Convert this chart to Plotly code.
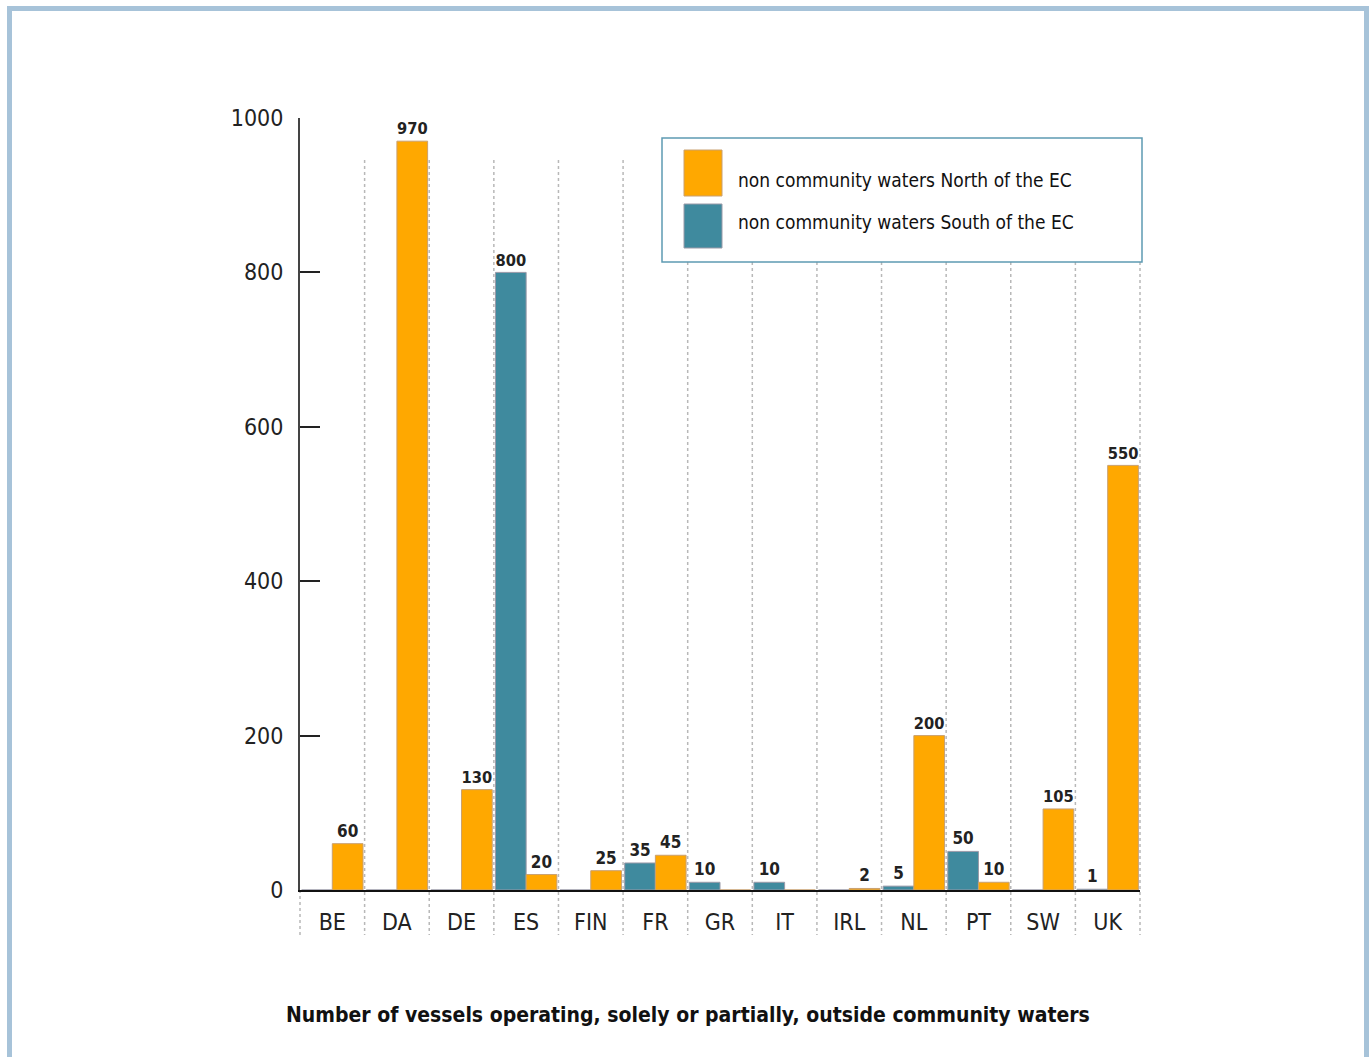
import plotly.graph_objects as go

countries = ["BE", "DA", "DE", "ES", "FIN", "FR", "GR", "IT", "IRL", "NL", "PT", "SW", "UK"]
north = [60, 970, 130, 20, 25, 45, 0, 0, 2, 200, 10, 105, 550]
south = [0, 0, 0, 800, 0, 35, 10, 10, 0, 5, 50, 0, 1]
y_ticks = [0, 200, 400, 600, 800, 1000]
north_name = "non community waters North of the EC"
south_name = "non community waters South of the EC"
title_text = "Number of vessels operating, solely or partially, outside community waters"

W, H = 1372, 1057
L, R, T, B = 300, 1140, 118, 890
ORANGE = "#FFA800"
TEAL = "#3F8A9E"
FONT = "Liberation Sans Narrow, DejaVu Sans Condensed, Arial Narrow, sans-serif"


def px(x):
    return (x - L) / (R - L)


def py(y):
    return (B - y) / (B - T)


def lab(v):
    return ["<b>%d</b>" % a if a else "" for a in v]


fig = go.Figure()
fig.add_trace(go.Bar(x=countries, y=south, name=south_name,
                     marker=dict(color=TEAL, line=dict(width=1, color="#9a9aa8")),
                     text=lab(south), textposition="outside", cliponaxis=False,
                     textfont=dict(family=FONT, size=17, color="#222")))
fig.add_trace(go.Bar(x=countries, y=north, name=north_name,
                     marker=dict(color=ORANGE, line=dict(width=1, color="#c9a070")),
                     text=lab(north), textposition="outside", cliponaxis=False,
                     textfont=dict(family=FONT, size=17, color="#222")))

shapes = []
n = len(countries)
step = (R - L) / n
for k in range(n + 1):
    x = px(L + k * step)
    y0 = py(160) if k > 0 else py(B)
    shapes.append(dict(type="line", xref="paper", yref="paper", x0=x, x1=x, y0=y0, y1=py(935),
                       line=dict(color="#b8b8b8", width=1.5, dash="dot"), layer="below"))

# outer frame
for (x0, y0, x1, y1) in [(7, 6, 12, 1057), (7, 6, 1369, 11), (1364, 6, 1369, 1057)]:
    shapes.append(dict(type="rect", xref="paper", yref="paper", x0=px(x0), x1=px(x1), y0=py(y0), y1=py(y1),
                       fillcolor="#A7C3D9", line=dict(width=0)))

# legend box
shapes.append(dict(type="rect", xref="paper", yref="paper", x0=px(662), x1=px(1142), y0=py(138), y1=py(262),
                   fillcolor="white", line=dict(color="#5E9AB2", width=1.5)))
shapes.append(dict(type="rect", xref="paper", yref="paper", x0=px(684), x1=px(722), y0=py(150), y1=py(196),
                   fillcolor=ORANGE, line=dict(width=1, color="#c9a070")))
shapes.append(dict(type="rect", xref="paper", yref="paper", x0=px(684), x1=px(722), y0=py(204), y1=py(248),
                   fillcolor=TEAL, line=dict(width=1, color="#9a9aa8")))

annotations = [
    dict(x=px(736), y=py(180), xref="paper", yref="paper", text=north_name, showarrow=False,
         xanchor="left", yanchor="middle", font=dict(family=FONT, size=19, color="#111")),
    dict(x=px(736), y=py(222), xref="paper", yref="paper", text=south_name, showarrow=False,
         xanchor="left", yanchor="middle", font=dict(family=FONT, size=19, color="#111")),
    dict(x=px(688), y=py(1015), xref="paper", yref="paper", text="<b>" + title_text + "</b>", showarrow=False,
         xanchor="center", yanchor="middle", font=dict(family=FONT, size=21, color="#111")),
]

fig.update_layout(
    width=W, height=H,
    margin=dict(l=L, r=W - R, t=T, b=H - B, pad=0),
    paper_bgcolor="white", plot_bgcolor="white",
    barmode="group", bargap=0.05, bargroupgap=0,
    showlegend=False,
    shapes=shapes, annotations=annotations,
    font=dict(family=FONT, color="#111"),
)
fig.update_xaxes(showgrid=False, showline=True, linecolor="#111", linewidth=2, ticks="",
                 tickfont=dict(family=FONT, size=23, color="#222"), ticklabelstandoff=10)
fig.update_yaxes(range=[0, 1000], tickvals=y_ticks, showgrid=False, zeroline=False,
                 showline=True, linecolor="#444", linewidth=2, ticks="inside", ticklen=20,
                 tickwidth=2, tickcolor="#222", tickfont=dict(family=FONT, size=23, color="#222"),
                 ticklabelstandoff=10)

fig.write_html("out.html")
